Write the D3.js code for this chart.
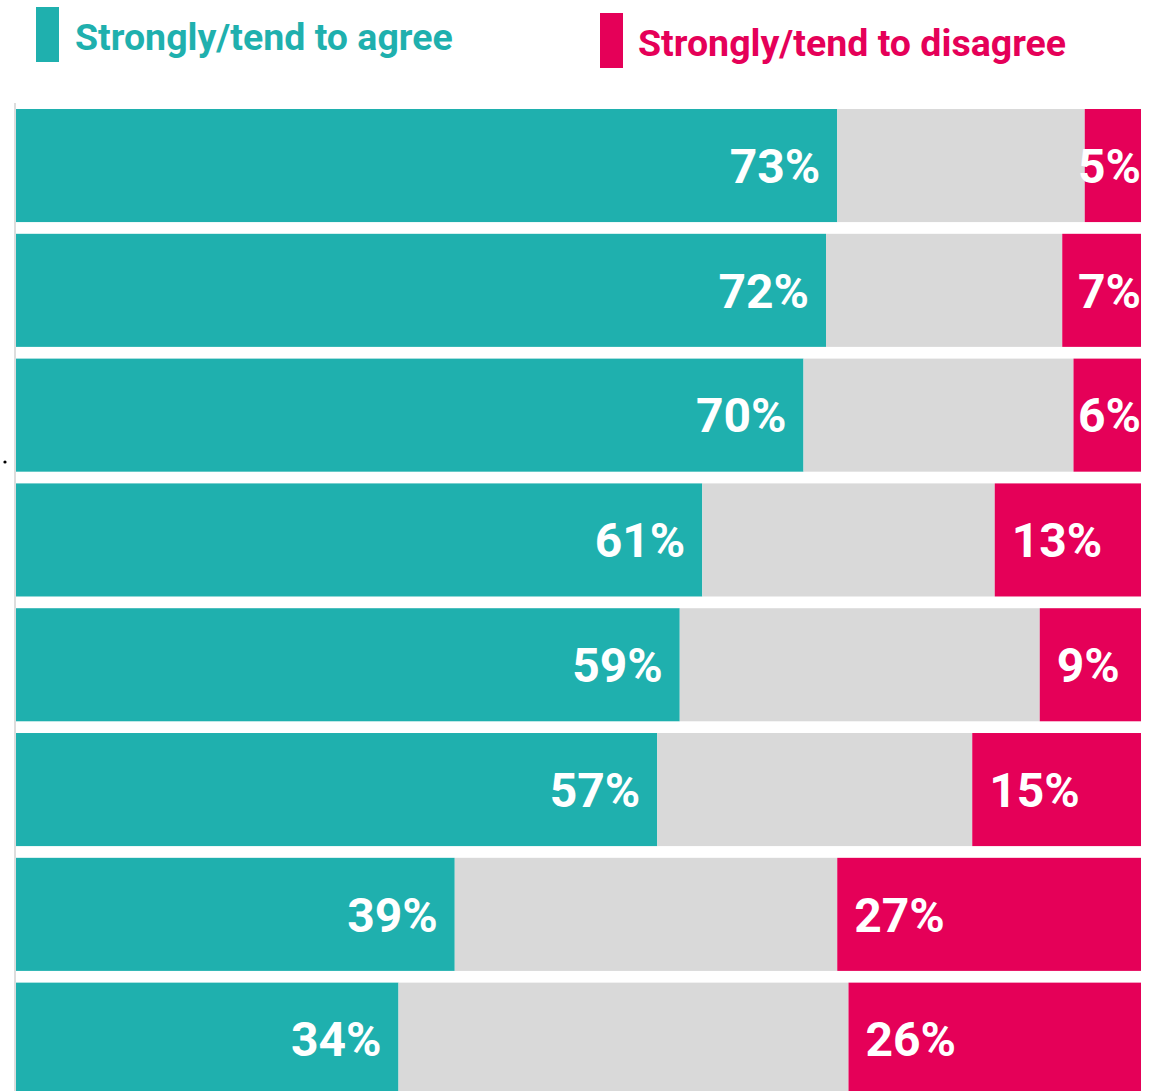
<!DOCTYPE html>
<html>
<head>
<meta charset="utf-8">
<script src="https://cdn.jsdelivr.net/npm/d3@7"></script>
<style>
  html, body { margin: 0; padding: 0; background: #fff; overflow: hidden; }
  svg { display: block; font-family: Roboto, "Noto Sans", sans-serif; }
</style>
</head>
<body>
<div id="chart"></div>
<script>
// statements (no labels shown in the picture)
const items = ["s1", "s2", "s3", "s4", "s5", "s6", "s7", "s8"];
const agree    = [73, 72, 70, 61, 59, 57, 39, 34];
const neutral  = [22, 21, 24, 26, 32, 28, 34, 40];
const disagree = [5, 7, 6, 13, 9, 15, 27, 26];
const legendLabels = ["Strongly/tend to agree", "Strongly/tend to disagree"];

const colors = { agree: "#1FB0AE", neutral: "#D9D9D9", disagree: "#E50058" };

function createChart() {
  const width = 1163;
  const height = 1091;
  const marginLeft = 16;
  const marginRight = 22;
  const marginTop = 109;

  const rows = items.map((id, i) => ({
    id, agree: agree[i], neutral: neutral[i], disagree: disagree[i]
  }));

  const stack = d3.stack().keys(["agree", "neutral", "disagree"]);
  const series = stack(rows);

  const x = d3.scaleLinear()
    .domain([0, 100])
    .range([marginLeft, width - marginRight]);

  const y = d3.scaleBand()
    .domain(items)
    .range([marginTop, marginTop + 8 * 124.8 - 11.7])
    .paddingInner(0.094)
    .paddingOuter(0);

  const svg = d3.select("#chart").append("svg")
    .attr("width", width)
    .attr("height", height)
    .attr("viewBox", [0, 0, width, height]);

  // legend
  const legend = svg.append("g");
  const leg = [
    { label: legendLabels[0], color: colors.agree, rx: 36, ry: 7, tx: 75, ty: 50 },
    { label: legendLabels[1], color: colors.disagree, rx: 600, ry: 13, tx: 638, ty: 56 }
  ];
  legend.selectAll("rect").data(leg).join("rect")
    .attr("x", d => d.rx).attr("y", d => d.ry)
    .attr("width", 23).attr("height", 55)
    .attr("fill", d => d.color);
  legend.selectAll("text").data(leg).join("text")
    .attr("x", d => d.tx).attr("y", d => d.ty)
    .attr("fill", d => d.color)
    .attr("font-size", 37.5)
    .attr("font-weight", 700)
    .text(d => d.label);

  // thin axis line on the left
  svg.append("rect")
    .attr("x", marginLeft - 2).attr("y", 103)
    .attr("width", 2).attr("height", height - 103)
    .attr("fill", "#DDDDDD");

  // stray dot in the original
  svg.append("circle").attr("cx", 5).attr("cy", 462).attr("r", 1.6).attr("fill", "#000");

  // bars
  svg.append("g")
    .selectAll("g")
    .data(series)
    .join("g")
      .attr("fill", d => colors[d.key])
    .selectAll("rect")
    .data(d => d)
    .join("rect")
      .attr("x", d => x(d[0]))
      .attr("y", d => y(d.data.id))
      .attr("width", d => x(d[1]) - x(d[0]))
      .attr("height", y.bandwidth());

  const labelSize = 48;
  const gLabels = svg.append("g")
    .attr("fill", "#fff")
    .attr("font-size", labelSize)
    .attr("font-weight", 700);

  // agree labels, right-aligned inside the bar
  gLabels.selectAll("text.agree")
    .data(series[0])
    .join("text")
      .attr("class", "agree")
      .attr("text-anchor", "end")
      .attr("x", d => x(d[1]) - 17)
      .attr("y", d => y(d.data.id) + y.bandwidth() / 2 + labelSize * 0.36)
      .text(d => d.data.agree + "%");

  // disagree labels, left-aligned but kept inside the plot
  gLabels.selectAll("text.disagree")
    .data(series[2])
    .join("text")
      .attr("class", "disagree")
      .attr("y", d => y(d.data.id) + y.bandwidth() / 2 + labelSize * 0.36)
      .text(d => d.data.disagree + "%")
      .attr("x", function(d) {
        const w = this.getComputedTextLength();
        return Math.min(x(d[0]) + 17, x(100) - w);
      });

  return svg.node();
}

createChart();
</script>
</body>
</html>
